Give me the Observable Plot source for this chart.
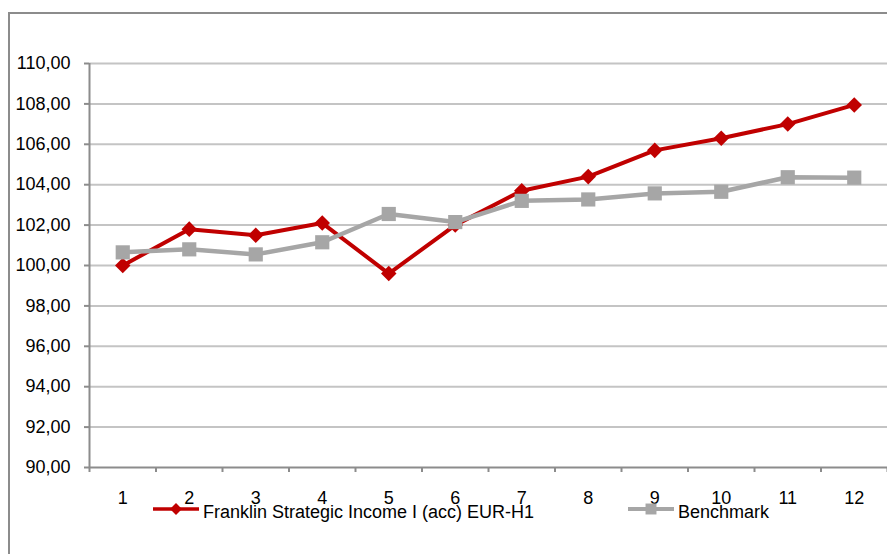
<!DOCTYPE html>
<html>
<head>
<meta charset="utf-8">
<script src="https://cdn.jsdelivr.net/npm/d3@7"></script>
<script src="https://cdn.jsdelivr.net/npm/@observablehq/plot@0.6"></script>
<style>
  html, body { margin: 0; padding: 0; background: #fff; }
  #wrap { position: relative; width: 887px; height: 554px; overflow: hidden; font-family: "Liberation Sans", Arial, sans-serif; }
  #frame { position: absolute; left: 8px; top: 12px; width: 1000px; height: 1000px; border-left: 2px solid #8c8c8c; border-top: 2px solid #8c8c8c; box-sizing: border-box; }
  #chart { position: absolute; left: 0; top: 0; }
  #chart svg text { font-size: 18px; fill: #000; }
  #legend { position: absolute; left: 0; top: 0; pointer-events: none; }
</style>
</head>
<body>
<div id="wrap">
  <div id="frame"></div>
  <div id="chart"></div>
  <svg id="legend" width="887" height="554"></svg>
</div>
<script>
const categories = [1, 2, 3, 4, 5, 6, 7, 8, 9, 10, 11, 12];
const seriesNames = ["Franklin Strategic Income I (acc) EUR-H1", "Benchmark"];
const fundValues = [100.0, 101.8, 101.5, 102.1, 99.6, 102.0, 103.7, 104.4, 105.7, 106.3, 107.0, 107.95];
const benchValues = [100.65, 100.8, 100.55, 101.15, 102.55, 102.15, 103.2, 103.27, 103.57, 103.65, 104.37, 104.35];
const yTicks = [90, 92, 94, 96, 98, 100, 102, 104, 106, 108, 110];

const fundColor = "#C00000";
const benchColor = "#A6A6A6";

const fund = categories.map((c, i) => ({x: c, y: fundValues[i]}));
const bench = categories.map((c, i) => ({x: c, y: benchValues[i]}));
const bandEdges = [0.5, ...categories.map(c => c + 0.5)];
const fmt = d => d.toFixed(2).replace(".", ",");

const chart = Plot.plot({
  width: 887,
  height: 554,
  marginLeft: 89,
  marginRight: 0,
  marginTop: 63,
  marginBottom: 87,
  style: {fontFamily: "'Liberation Sans', Arial, sans-serif", fontSize: "18px", color: "#000", background: "transparent"},
  x: {type: "linear", domain: [0.5, 12.5]},
  y: {domain: [90, 110]},
  marks: [
    Plot.gridY(yTicks.filter(t => t > 90), {stroke: "#c4c4c4", strokeOpacity: 1, strokeWidth: 2}),
    Plot.ruleY([90], {stroke: "#8c8c8c", strokeWidth: 2}),
    Plot.ruleX([0.5], {stroke: "#8c8c8c", strokeWidth: 2}),
    Plot.axisY(yTicks, {tickSize: 5, tickPadding: 14, tickFormat: fmt, stroke: "#8c8c8c", strokeWidth: 2, fill: "#000", label: null}),
    Plot.axisX(bandEdges, {tickSize: 5, tickFormat: () => "", stroke: "#8c8c8c", strokeWidth: 2, label: null}),
    Plot.axisX(categories, {tickSize: 0, tickPadding: 24, fill: "#000", label: null}),
    Plot.line(fund, {x: "x", y: "y", stroke: fundColor, strokeWidth: 4}),
    Plot.dot(fund, {x: "x", y: "y", symbol: "diamond2", r: 7, fill: fundColor, stroke: "none"}),
    Plot.line(bench, {x: "x", y: "y", stroke: benchColor, strokeWidth: 4.5}),
    Plot.dot(bench, {x: "x", y: "y", symbol: "square", r: 8, fill: benchColor, stroke: "none"})
  ]
});
document.getElementById("chart").appendChild(chart);

// Legend
const legend = d3.select("#legend");
const items = [
  {name: seriesNames[0], color: fundColor, x0: 153, sym: d3.symbolDiamond2, size: 90, sw: 3.5},
  {name: seriesNames[1], color: benchColor, x0: 628, sym: d3.symbolSquare, size: 120, sw: 4}
];
for (const it of items) {
  const g = legend.append("g");
  g.append("line").attr("x1", it.x0).attr("x2", it.x0 + 46).attr("y1", 509).attr("y2", 509)
    .attr("stroke", it.color).attr("stroke-width", it.sw);
  g.append("path").attr("d", d3.symbol(it.sym, it.size)()).attr("transform", `translate(${it.x0 + 23},509)`)
    .attr("fill", it.color);
  g.append("text").attr("x", it.x0 + 50).attr("y", 512).attr("dy", "0.32em")
    .attr("font-family", "'Liberation Sans', Arial, sans-serif").attr("font-size", 18).attr("fill", "#000")
    .text(it.name);
}
</script>
</body>
</html>
